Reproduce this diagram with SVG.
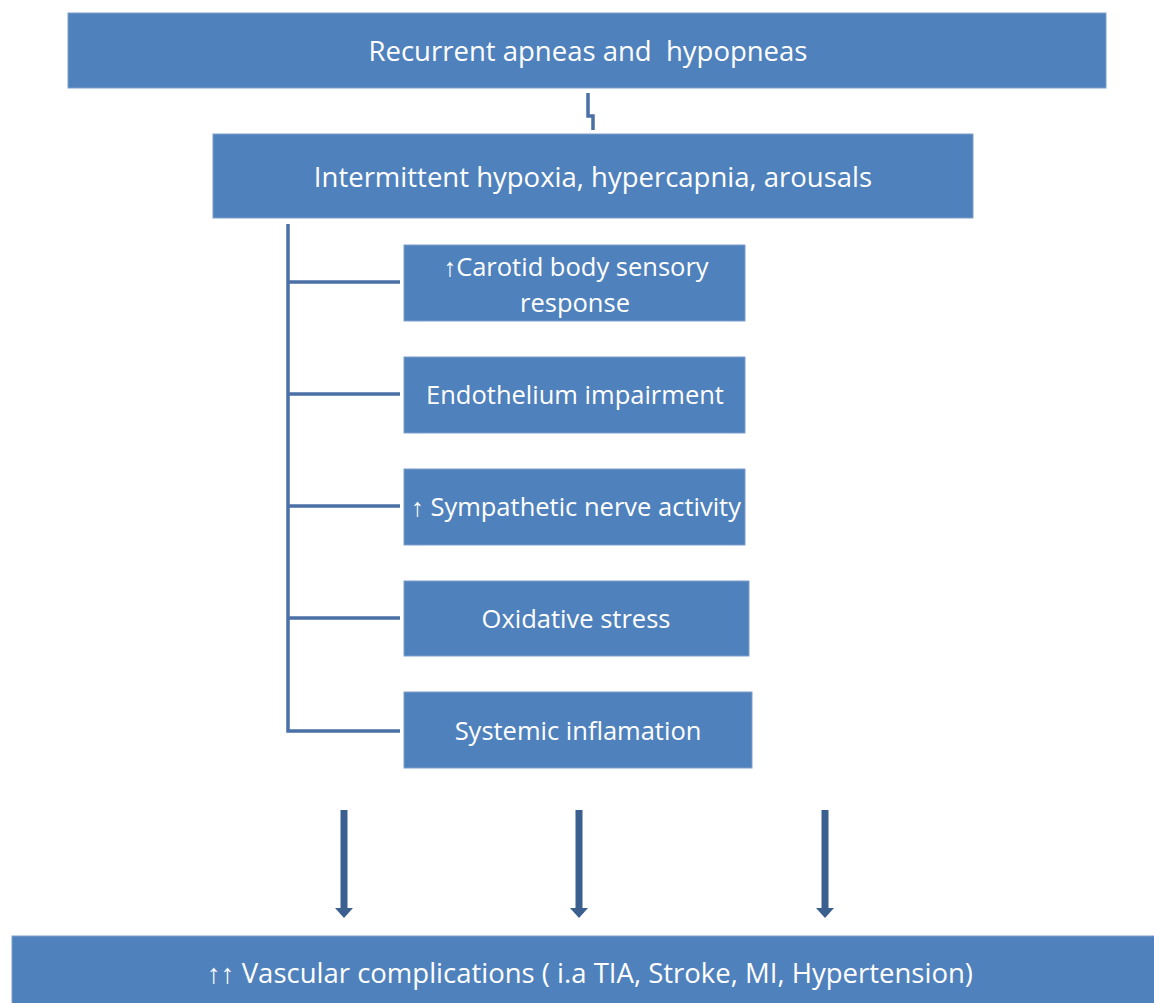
<svg xmlns="http://www.w3.org/2000/svg" width="1154" height="1003" viewBox="0 0 1154 1003">
<defs>
<style>
.box{fill:#4F81BD;stroke:#7F9FCB;stroke-width:1}
.t{font-family:"Open Sans","Liberation Sans",sans-serif;font-size:27.5px;fill:#FFFFFF;text-anchor:middle;dominant-baseline:central}
.s{font-size:25.5px}
.ln{stroke:#4A70A6;stroke-width:3.5;fill:none}
.arr{fill:#3B5F8F}
</style>
</defs>
<rect width="1154" height="1003" fill="#FFFFFF"/>
<g id="connectors">
<path class="ln" d="M588 93 V116 H593 V130" stroke="#3B5F8F"/>
<path class="ln" d="M288 224 V731 H400"/>
<path class="ln" d="M288 282 H400 M288 394 H400 M288 506 H400 M288 618 H400"/>
<path class="arr" d="M340.5 810 H347.5 V908 H353 L344 918 L335 908 H340.5 Z"/>
<path class="arr" d="M575.5 810 H582.5 V908 H588 L579 918 L570 908 H575.5 Z"/>
<path class="arr" d="M821.5 810 H828.5 V908 H834 L825 918 L816 908 H821.5 Z"/>
</g>
<g id="n1"><rect class="box" x="68" y="13" width="1038" height="75"/><text class="t" x="588" y="50" xml:space="preserve">Recurrent apneas and  hypopneas</text></g>
<g id="n2"><rect class="box" x="213" y="134" width="760" height="84"/><text class="t" x="593" y="176">Intermittent hypoxia, hypercapnia, arousals</text></g>
<g id="n3"><rect class="box" x="404" y="245" width="341" height="76"/><text class="t s" x="576" y="266">↑Carotid body sensory</text><text class="t s" x="575" y="302">response</text></g>
<g id="n4"><rect class="box" x="404" y="357" width="341" height="76"/><text class="t s" x="575" y="394">Endothelium impairment</text></g>
<g id="n5"><rect class="box" x="404" y="469" width="341" height="76"/><text class="t s" x="576" y="506" xml:space="preserve">↑ Sympathetic nerve activity</text></g>
<g id="n6"><rect class="box" x="404" y="581" width="345" height="75"/><text class="t s" x="576" y="618">Oxidative stress</text></g>
<g id="n7"><rect class="box" x="404" y="692" width="348" height="76"/><text class="t s" x="578" y="730">Systemic inflamation</text></g>
<g id="n8"><rect class="box" x="12" y="936" width="1143" height="70"/><text class="t" x="590" y="972" xml:space="preserve">↑↑ Vascular complications ( i.a TIA, Stroke, MI, Hypertension)</text></g>
</svg>
